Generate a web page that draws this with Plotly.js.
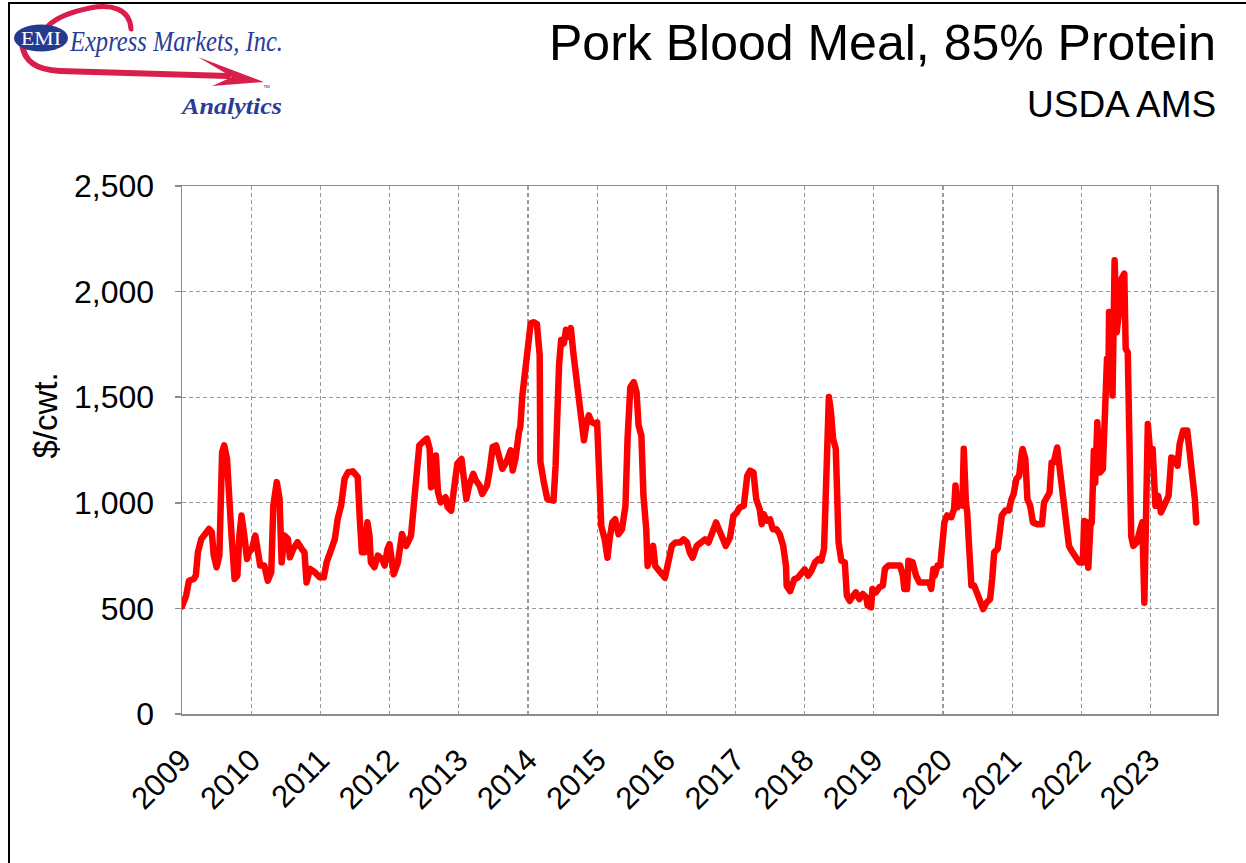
<!DOCTYPE html>
<html>
<head>
<meta charset="utf-8">
<script src="https://cdn.plot.ly/plotly-3.0.1.min.js"></script>
<style>
  html, body { margin: 0; padding: 0; background: #fff; overflow: hidden; }
  #wrap { position: relative; width: 1246px; height: 863px; }
  #chart { position: absolute; left: 0; top: 0; width: 1246px; height: 863px; }
  #frame { position: absolute; left: 8px; top: 2px; width: 1250px; height: 900px;
           border-left: 2px solid #000; border-top: 2px solid #000; pointer-events: none; }
  #logo { position: absolute; left: 0; top: 0; pointer-events: none; }
  .scatterlayer path.js-line { stroke-linejoin: round; stroke-linecap: round; }
</style>
</head>
<body>
<div id="wrap">
  <div id="chart"></div>
  <div id="frame"></div>
  <svg id="logo" width="460" height="140" viewBox="0 0 460 140">
    <path d="M131,29 C130,8 110,4 90,8 C70,12 56,18 48,26" fill="none" stroke="#d81e4a" stroke-width="5" stroke-linecap="round"/>
    <path d="M22,44 C24,60 34,70 60,71 L228,76" fill="none" stroke="#d81e4a" stroke-width="6" stroke-linecap="round"/>
    <path d="M198,57 L264,82 L212,86 L232,77 Z" fill="#d81e4a"/>
    <ellipse cx="41" cy="38" rx="27" ry="13.5" fill="#243a8f"/>
    <text x="41" y="45" text-anchor="middle" fill="#fff" font-family="Liberation Serif, serif" font-size="18" textLength="40" lengthAdjust="spacingAndGlyphs">EMI</text>
    <text x="70" y="51" fill="#2b3c97" font-family="Liberation Serif, serif" font-style="italic" font-size="29" textLength="213" lengthAdjust="spacingAndGlyphs">Express Markets, Inc.</text>
    <text x="182" y="114" fill="#2b3c97" font-family="Liberation Serif, serif" font-style="italic" font-weight="bold" font-size="23" textLength="100" lengthAdjust="spacingAndGlyphs">Analytics</text>
    <text x="263" y="90" fill="#2b3c97" font-family="Liberation Sans, sans-serif" font-size="7">™</text>
  </svg>
</div>
<script>
// Year positions (decimal years) and prices in $/cwt.
const years = [
  2009.00,2009.02,2009.06,2009.10,2009.17,2009.20,2009.23,2009.28,2009.34,2009.39,
  2009.43,2009.46,2009.50,2009.54,2009.58,2009.61,2009.65,2009.68,2009.71,2009.76,
  2009.80,2009.83,2009.86,2009.90,2009.94,2009.97,2010.01,2010.06,2010.09,2010.13,
  2010.19,2010.24,2010.29,2010.32,2010.37,2010.41,2010.44,2010.48,2010.53,2010.56,
  2010.61,2010.67,2010.73,2010.77,2010.80,2010.85,2010.92,2010.99,2011.05,2011.09,
  2011.16,2011.21,2011.25,2011.30,2011.35,2011.40,2011.47,2011.54,2011.57,2011.60,
  2011.64,2011.68,2011.71,2011.73,2011.78,2011.83,2011.89,2011.93,2011.97,2012.00,
  2012.06,2012.12,2012.18,2012.24,2012.31,2012.36,2012.39,2012.43,2012.48,2012.54,
  2012.58,2012.60,2012.63,2012.67,2012.70,2012.74,2012.81,2012.84,2012.89,2012.94,
  2012.98,2013.04,2013.08,2013.11,2013.15,2013.21,2013.25,2013.30,2013.34,2013.41,
  2013.45,2013.49,2013.54,2013.58,2013.63,2013.69,2013.75,2013.78,2013.82,2013.87,
  2013.89,2013.92,2013.96,2014.00,2014.04,2014.08,2014.13,2014.17,2014.18,2014.23,
  2014.28,2014.37,2014.40,2014.45,2014.48,2014.52,2014.55,2014.58,2014.62,2014.66,
  2014.71,2014.74,2014.78,2014.81,2014.85,2014.88,2014.92,2014.96,2015.00,2015.02,
  2015.06,2015.11,2015.15,2015.18,2015.22,2015.26,2015.31,2015.36,2015.41,2015.44,
  2015.48,2015.53,2015.57,2015.60,2015.64,2015.67,2015.71,2015.73,2015.77,2015.81,
  2015.84,2015.89,2015.94,2015.98,2016.03,2016.08,2016.13,2016.20,2016.25,2016.30,
  2016.34,2016.38,2016.44,2016.49,2016.56,2016.61,2016.66,2016.72,2016.77,2016.83,
  2016.86,2016.92,2016.97,2017.02,2017.06,2017.12,2017.17,2017.21,2017.26,2017.30,
  2017.35,2017.38,2017.41,2017.45,2017.50,2017.54,2017.59,2017.64,2017.69,2017.73,
  2017.74,2017.79,2017.85,2017.90,2017.95,2018.00,2018.05,2018.10,2018.15,2018.20,
  2018.24,2018.28,2018.30,2018.33,2018.35,2018.38,2018.41,2018.45,2018.47,2018.49,
  2018.53,2018.58,2018.61,2018.65,2018.70,2018.74,2018.79,2018.84,2018.89,2018.91,
  2018.96,2018.98,2019.03,2019.08,2019.13,2019.16,2019.21,2019.30,2019.38,2019.42,
  2019.44,2019.48,2019.50,2019.56,2019.61,2019.66,2019.73,2019.80,2019.83,2019.86,
  2019.88,2019.92,2019.96,2019.99,2020.02,2020.06,2020.12,2020.16,2020.18,2020.21,
  2020.24,2020.28,2020.30,2020.33,2020.35,2020.37,2020.41,2020.45,2020.49,2020.54,
  2020.58,2020.63,2020.68,2020.71,2020.74,2020.79,2020.82,2020.85,2020.90,2020.95,
  2020.99,2021.02,2021.06,2021.10,2021.14,2021.15,2021.19,2021.22,2021.26,2021.30,
  2021.36,2021.43,2021.46,2021.50,2021.54,2021.57,2021.60,2021.65,2021.68,2021.72,
  2021.76,2021.79,2021.82,2021.86,2021.91,2021.97,2022.02,2022.04,2022.08,2022.10,
  2022.13,2022.15,2022.18,2022.20,2022.23,2022.25,2022.27,2022.31,2022.34,2022.37,
  2022.39,2022.40,2022.43,2022.45,2022.48,2022.51,2022.55,2022.58,2022.62,2022.64,
  2022.67,2022.69,2022.72,2022.75,2022.80,2022.85,2022.88,2022.91,2022.93,2022.96,
  2022.99,2023.03,2023.07,2023.11,2023.15,2023.21,2023.26,2023.30,2023.35,2023.39,
  2023.42,2023.47,2023.53,2023.56,2023.59,2023.64,2023.66
];
const prices = [
  510,528,560,631,639,655,766,829,853,876,
  861,750,695,750,1240,1272,1209,1082,876,639,
  655,845,940,845,734,766,782,845,766,703,
  703,631,671,987,1098,1019,718,845,829,742,
  782,813,782,766,623,687,671,647,647,718,
  782,829,924,987,1114,1145,1149,1122,924,766,
  766,908,845,718,695,750,734,703,780,804,
  662,717,852,796,844,1050,1113,1272,1288,1304,
  1256,1074,1082,1224,1050,1002,1026,979,963,1082,
  1185,1208,1050,1018,1082,1137,1105,1082,1042,1082,
  1161,1264,1272,1208,1161,1193,1248,1153,1208,1335,
  1359,1510,1636,1731,1850,1855,1846,1700,1193,1098,
  1018,1010,1177,1652,1771,1755,1819,1787,1827,1700,
  1557,1494,1367,1296,1383,1414,1383,1375,1381,1128,
  891,827,740,827,907,922,851,875,986,1302,
  1547,1571,1524,1365,1318,1033,875,701,764,796,
  701,685,661,645,717,796,812,812,827,812,
  764,740,796,812,827,812,851,907,867,827,
  796,835,938,954,978,986,1128,1152,1144,1017,
  970,899,946,915,922,875,875,851,796,701,
  606,582,638,645,669,685,655,679,718,734,
  726,782,987,1351,1501,1430,1304,1256,1066,813,
  726,718,560,536,560,576,544,568,552,513,
  505,592,576,600,608,687,703,703,703,655,
  592,592,726,718,655,623,623,623,592,687,
  655,703,703,845,908,940,932,971,1082,979,
  1003,987,1256,1003,955,829,608,608,568,513,
  497,528,544,639,766,782,876,940,963,963,
  1017,1041,1112,1128,1239,1255,1207,1017,986,907,
  899,899,1001,1025,1049,1191,1191,1262,1175,1112,
  970,843,796,772,740,717,717,914,907,693,
  891,907,1247,1096,1381,1255,1144,1160,1539,1682,
  1571,1903,1729,1508,2148,1808,1919,2061,2085,1729,
  1713,1270,843,796,812,875,907,527,938,1373,
  1255,1255,986,1033,954,1001,1033,1215,1207,1175,
  1278,1342,1342,1255,1175,1017,907
];
const yearTicks = [2009,2010,2011,2012,2013,2014,2015,2016,2017,2018,2019,2020,2021,2022,2023];
const yearLabels = ['2009','2010','2011','2012','2013','2014','2015','2016','2017','2018','2019','2020','2021','2022','2023'];
const priceTicks = [0,500,1000,1500,2000,2500];
const priceLabels = ['0','500','1,000','1,500','2,000','2,500'];

const font = 'Liberation Sans, Arial, sans-serif';

const trace = {
  x: years, y: prices, type: 'scatter', mode: 'lines',
  line: { color: '#ff0000', width: 6.5 },
  hoverinfo: 'skip', showlegend: false
};

const layout = {
  width: 1246, height: 863,
  margin: { l: 182, r: 29, t: 186, b: 149, pad: 0 },
  paper_bgcolor: '#ffffff', plot_bgcolor: '#ffffff',
  font: { family: font, color: '#000' },
  showlegend: false,
  xaxis: {
    type: 'linear', range: [2009, 2023.96], fixedrange: true,
    tickmode: 'array', tickvals: yearTicks, ticktext: yearLabels,
    tickangle: -45, tickfont: { family: font, size: 31, color: '#000' },
    ticks: '', ticklabelstandoff: 14,
    showgrid: true, gridcolor: '#999999', griddash: '4px,3px', gridwidth: 1.2,
    showline: true, linecolor: '#8c8c8c', linewidth: 1.5, mirror: true,
    zeroline: false
  },
  yaxis: {
    range: [0, 2500], fixedrange: true,
    tickmode: 'array', tickvals: priceTicks, ticktext: priceLabels,
    tickfont: { family: font, size: 32, color: '#000' },
    ticks: 'outside', ticklen: 6, tickcolor: '#8c8c8c', tickwidth: 1.5,
    ticklabelstandoff: 14,
    showgrid: true, gridcolor: '#999999', griddash: '4px,3px', gridwidth: 1.2,
    showline: true, linecolor: '#8c8c8c', linewidth: 1.5, mirror: true,
    zeroline: false
  },
  annotations: [
    { text: 'Pork Blood Meal, 85% Protein', xref: 'paper', yref: 'paper',
      x: 1.001, y: 1.27, xanchor: 'right', yanchor: 'middle', showarrow: false,
      font: { family: font, size: 50, color: '#000' } },
    { text: 'USDA AMS', xref: 'paper', yref: 'paper',
      x: 1.001, y: 1.155, xanchor: 'right', yanchor: 'middle', showarrow: false,
      font: { family: font, size: 37, color: '#000' } },
    { text: '$/cwt.', xref: 'paper', yref: 'paper', textangle: -90,
      x: -0.132, y: 0.566, xanchor: 'center', yanchor: 'middle', showarrow: false,
      font: { family: font, size: 33, color: '#000' } }
  ]
};

Plotly.newPlot('chart', [trace], layout, { staticPlot: true, displayModeBar: false });
</script>
</body>
</html>
